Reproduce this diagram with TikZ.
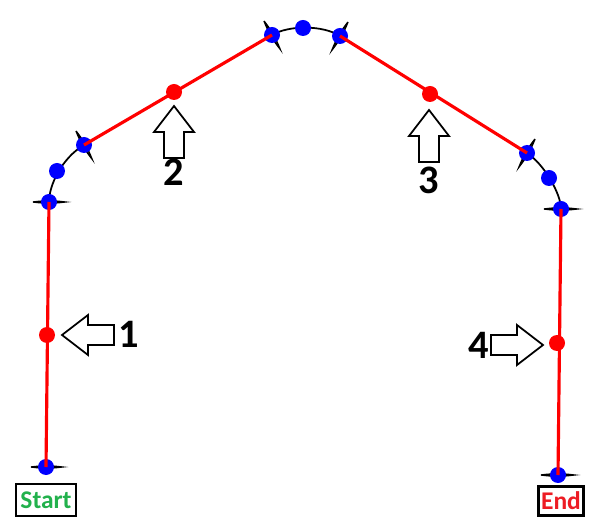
\documentclass[tikz,border=0pt]{standalone}
\usepackage{fontspec}
\setmainfont{Carlito}
\usepackage{tikz}
\usetikzlibrary{positioning}
\usetikzlibrary{calc}
\definecolor{startgreen}{RGB}{34,177,76}
\definecolor{endred}{RGB}{237,28,36}
\tikzset{
  redpath/.style={red, line width=1.8pt},
  arcpath/.style={black, line width=1pt},
  tickmark/.style={black, line width=0.8pt},
  bluedot/.style={fill=blue},
  reddot/.style={fill=red},
  numlabel/.style={font=\bfseries\fontsize{23}{23}\selectfont, inner sep=0pt},
  endbox/.style={draw, line width=1.2pt, inner sep=1pt,
    font=\bfseries\fontsize{14.5}{14.5}\selectfont},
  pics/blockarrow/.style={code={
    \draw[line width=1pt] (0,0) -- (26,-20) -- (26,-10) -- (52,-10)
      -- (52,10) -- (26,10) -- (26,20) -- cycle;}}
}

\begin{document}
\begin{tikzpicture}[x=0.02cm, y=-0.02cm]
\useasboundingbox (0,0) rectangle (611,526);

% Points of the path
\coordinate (S)  at (46,467);
\coordinate (L1) at (49,202);
\coordinate (L2) at (57,171);
\coordinate (L3) at (84,145);
\coordinate (T1) at (272,35);
\coordinate (T2) at (303,28);
\coordinate (T3) at (340,36);
\coordinate (R1) at (527,153);
\coordinate (R2) at (549,178);
\coordinate (R3) at (561,209);
\coordinate (E)  at (558,475);

% Red points
\coordinate (P1) at (47,335);
\coordinate (P2) at (174,92);
\coordinate (P3) at (430,94);
\coordinate (P4) at (557,343);

% Black arcs
\draw[arcpath] (L1) .. controls (49,185) and (62,158) .. (L3);
\draw[arcpath] (T1) .. controls (289,25) and (323,25) .. (T3);
\draw[arcpath] (R1) .. controls (544,164) and (561,194) .. (R3);

% Tick marks (thin lenses across the path)
\draw[tickmark] (31,467) to[bend left=7] (62,467) to[bend left=7] (31,467);
\draw[tickmark] (33,202) to[bend left=7] (65,202) to[bend left=7] (33,202);
\draw[tickmark] (76,131) to[bend left=8] (92,159) to[bend left=8] (76,131);
\draw[tickmark] (264,21) to[bend left=8] (280,49) to[bend left=8] (264,21);
\draw[tickmark] (348,22) to[bend left=8] (332,50) to[bend left=8] (348,22);
\draw[tickmark] (535,139) to[bend left=8] (519,167) to[bend left=8] (535,139);
\draw[tickmark] (544,209) to[bend left=7] (577,209) to[bend left=7] (544,209);
\draw[tickmark] (541,475) to[bend left=7] (574,475) to[bend left=7] (541,475);

% Blue points
\foreach \p in {S,L1,L2,L3,T1,T2,T3,R1,R2,R3,E}
  \fill[bluedot] (\p) circle (8);

% Red segments
\draw[redpath] (S) -- (L1);
\draw[redpath] (L3) -- (T1);
\draw[redpath] (T3) -- (R1);
\draw[redpath] (R3) -- (E);

\foreach \p in {P1,P2,P3,P4}
  \fill[reddot] (\p) circle (8);

% Block arrows and numbers
\pic at (62,335) {blockarrow};
\pic[rotate=-90] at (174,106) {blockarrow};
\pic[rotate=-90] at (429,110) {blockarrow};
\pic[rotate=180] at (543,345) {blockarrow};

\node[numlabel] (n1) at (129,334) {1};
\node[numlabel] (n2) at (174,172) {2};
\node[numlabel] (n3) at (429,180) {3};
\node[numlabel] (n4) at (479,345) {4};

% Start and end
\node[endbox, text=startgreen, minimum width=1.2cm, minimum height=0.64cm]
  (start) at (46,500) {Start};
\node[endbox, text=endred, minimum width=0.9cm, minimum height=0.58cm]
  (end) at (561,501) {End};
\end{tikzpicture}
\end{document}
